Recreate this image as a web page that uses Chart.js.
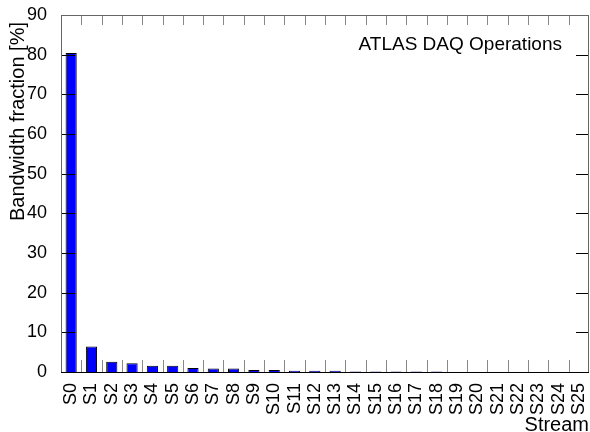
<!DOCTYPE html>
<html>
<head>
<meta charset="utf-8">
<script src="https://cdn.jsdelivr.net/npm/chart.js@4/dist/chart.umd.min.js"></script>
<style>
  html, body { margin: 0; padding: 0; background: #fff; }
  #wrap { width: 590px; height: 432px; }
</style>
</head>
<body>
<div id="wrap"><canvas id="myChart" width="590" height="432"></canvas></div>
<script>
// streams and their share of the bandwidth (%)
const streams = ['S0', 'S1', 'S2', 'S3', 'S4', 'S5', 'S6', 'S7', 'S8', 'S9', 'S10', 'S11', 'S12',
  'S13', 'S14', 'S15', 'S16', 'S17', 'S18', 'S19', 'S20', 'S21', 'S22', 'S23', 'S24', 'S25'];
const fractions = [80.4, 6.4, 2.6, 2.2, 1.6, 1.6, 1.0, 0.9, 0.9, 0.5, 0.5, 0.3, 0.3,
  0.3, 0.15, 0.15, 0.15, 0.15, 0.15, 0.03, 0.02, 0.02, 0.02, 0.01, 0.01, 0.01];
const yTicks = [0, 10, 20, 30, 40, 50, 60, 70, 80, 90];
const yTitle = 'Bandwidth fraction [%]';
const annotation = 'ATLAS DAQ Operations';

const FONT = 'Liberation Sans, Arial, Helvetica, sans-serif';

// frame, inward tick marks, y title and the label in the corner
const framePlugin = {
  id: 'frame',
  afterDatasetsDraw(chart) {
    const { ctx, chartArea: a, scales: { x, y } } = chart;
    ctx.save();
    ctx.lineWidth = 1;

    // x ticks at category boundaries
    ctx.strokeStyle = '#888';
    for (let i = 0; i < streams.length - 1; i++) {
      const px = Math.round((x.getPixelForValue(i) + x.getPixelForValue(i + 1)) / 2) + 0.5;
      ctx.beginPath();
      ctx.moveTo(px, a.bottom);
      ctx.lineTo(px, a.bottom - 12);
      ctx.moveTo(px, a.top);
      ctx.lineTo(px, a.top + 10);
      ctx.stroke();
    }

    // y ticks on both sides
    ctx.strokeStyle = '#000';
    yTicks.forEach(v => {
      const py = Math.round(y.getPixelForValue(v)) + 0.5;
      ctx.beginPath();
      ctx.moveTo(a.left, py);
      ctx.lineTo(a.left + 14, py);
      ctx.moveTo(a.right, py);
      ctx.lineTo(a.right - 13, py);
      ctx.stroke();
    });

    // frame
    ctx.strokeStyle = '#666';
    ctx.strokeRect(Math.round(a.left) + 0.5, Math.round(a.top) + 0.5,
      Math.round(a.right - a.left) - 1, Math.round(a.bottom - a.top));
    ctx.strokeStyle = '#000';
    ctx.beginPath();
    ctx.moveTo(a.left, Math.round(a.bottom) + 0.5);
    ctx.lineTo(a.right, Math.round(a.bottom) + 0.5);
    ctx.stroke();

    ctx.fillStyle = '#000';
    ctx.font = '19px ' + FONT;
    ctx.textAlign = 'right';
    ctx.textBaseline = 'middle';
    ctx.fillText(annotation, a.right - 27, a.top + 30);

    // y axis title, reading upwards, ending a little below the top
    ctx.font = '20px ' + FONT;
    ctx.translate(18, a.top + 7);
    ctx.rotate(-Math.PI / 2);
    ctx.textAlign = 'right';
    ctx.fillText(yTitle, 0, 0);
    ctx.restore();
  }
};

const ctx = document.getElementById('myChart').getContext('2d');
new Chart(ctx, {
  type: 'bar',
  data: {
    labels: streams,
    datasets: [{
      data: fractions,
      backgroundColor: '#0000ff',
      borderColor: '#000',
      borderWidth: 1,
      barPercentage: 0.55,
      categoryPercentage: 1.0
    }]
  },
  options: {
    responsive: false,
    animation: false,
    layout: { padding: { top: 15, right: 1, left: 0, bottom: 0 } },
    plugins: {
      legend: { display: false },
      tooltip: { enabled: false }
    },
    scales: {
      x: {
        grid: { display: false },
        border: { display: false },
        ticks: {
          color: '#000',
          font: { family: FONT, size: 18 },
          minRotation: 90,
          maxRotation: 90,
          autoSkip: false,
          padding: 3
        },
        title: {
          display: true,
          text: 'Stream',
          align: 'end',
          color: '#000',
          font: { family: FONT, size: 20, lineHeight: 0.7 },
          padding: { top: 0, bottom: 0 }
        },
        afterFit(scale) {
          scale.height = 60;
          scale.paddingLeft = 0;
          scale.paddingRight = 0;
        }
      },
      y: {
        min: 0,
        max: 90,
        grid: { display: false },
        border: { display: false },
        afterBuildTicks(scale) { scale.ticks = yTicks.map(v => ({ value: v })); },
        ticks: {
          color: '#000',
          font: { family: FONT, size: 18 },
          padding: 6
        },
        afterFit(scale) {
          scale.width = 61;
          scale.paddingTop = 0;
          scale.paddingBottom = 0;
        }
      }
    }
  },
  plugins: [framePlugin]
});
</script>
</body>
</html>
